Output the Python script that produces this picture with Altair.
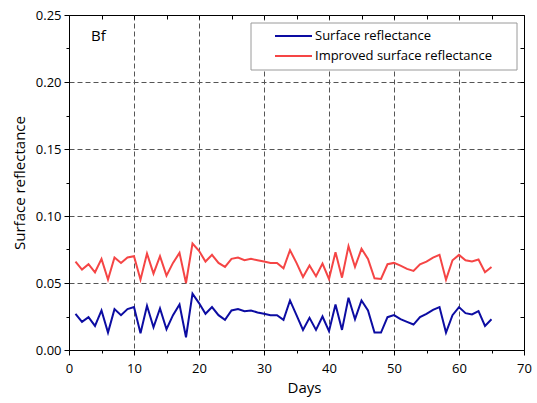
import altair as alt
import pandas as pd

# Daily series (days 1-65)
days = list(range(1, 66))

surface = [
    0.027, 0.021, 0.0245, 0.018, 0.0295, 0.013, 0.0305, 0.026, 0.0305, 0.032,
    0.0125, 0.033, 0.017, 0.031, 0.0155, 0.026, 0.034, 0.0095, 0.042, 0.035,
    0.027, 0.032, 0.026, 0.0225, 0.0295, 0.0305, 0.029, 0.0295, 0.028, 0.027,
    0.026, 0.026, 0.0225, 0.037, 0.026, 0.015, 0.024, 0.015, 0.025, 0.014,
    0.034, 0.015, 0.039, 0.023, 0.037, 0.0295, 0.013, 0.013, 0.0245, 0.026,
    0.023, 0.021, 0.019, 0.0245, 0.027, 0.030, 0.032, 0.013, 0.026, 0.032,
    0.0275, 0.0265, 0.029, 0.018, 0.023,
]

improved = [
    0.066, 0.060, 0.064, 0.058, 0.068, 0.0525, 0.069, 0.065, 0.069, 0.070,
    0.0525, 0.072, 0.057, 0.070, 0.0555, 0.065, 0.0725, 0.050, 0.0795, 0.074,
    0.066, 0.071, 0.065, 0.062, 0.068, 0.069, 0.067, 0.068, 0.067, 0.066,
    0.065, 0.065, 0.061, 0.0745, 0.065, 0.0545, 0.063, 0.055, 0.0645, 0.053,
    0.073, 0.054, 0.0775, 0.062, 0.0755, 0.068, 0.0535, 0.053, 0.064, 0.065,
    0.063, 0.0605, 0.059, 0.064, 0.066, 0.069, 0.071, 0.0525, 0.067, 0.071,
    0.067, 0.066, 0.0675, 0.058, 0.062,
]

series_names = ["Surface reflectance", "Improved surface reflectance"]
colors = ["#0c0ca2", "#f54545"]

x_ticks = [0, 5, 10, 15, 20, 25, 30, 35, 40, 45, 50, 55, 60, 65, 70]
y_ticks = [0.0, 0.025, 0.05, 0.075, 0.1, 0.125, 0.15, 0.175, 0.2, 0.225, 0.25]

df = pd.concat([
    pd.DataFrame({"day": days, "value": surface, "series": series_names[0]}),
    pd.DataFrame({"day": days, "value": improved, "series": series_names[1]}),
])

FONT = "Open Sans"
x_major = "datum.value % 10 == 0"
y_major = "round(datum.value * 1000) % 50 == 0"

x_scale = alt.Scale(domain=[0, 70], nice=False, zero=False)
y_scale = alt.Scale(domain=[0, 0.25], nice=False, zero=False)

x_bottom = alt.Axis(
    values=x_ticks, title="Days", titleFontSize=15, titleFontWeight="normal",
    titleColor="black", titlePadding=5, titleX=235,
    labelExpr=f"{x_major} ? datum.label : ''", labelFontSize=13, labelColor="black",
    labelPadding=7, labelFlush=False, labelOverlap=False,
    tickSize={"condition": {"test": x_major, "value": 5}, "value": 3},
    tickColor="black", domainColor="black",
    grid=True, gridColor="#555555", gridDash=[5, 3], gridWidth=1,
    gridOpacity={"condition": {"test": f"!({x_major}) || datum.value == 0 || datum.value == 70",
                               "value": 0}, "value": 1},
)

y_left = alt.Axis(
    values=y_ticks, title="Surface reflectance", titleFontSize=15,
    titleFontWeight="normal", titleColor="black", titlePadding=8,
    labelExpr=f"{y_major} ? format(datum.value, '.2f') : ''", labelFontSize=13,
    labelColor="black", labelPadding=3, labelFlush=False, labelOverlap=False,
    tickSize={"condition": {"test": y_major, "value": 5}, "value": 3},
    tickColor="black", domainColor="black",
    grid=True, gridColor="#555555", gridDash=[5, 3], gridWidth=1,
    gridOpacity={"condition": {"test": f"!({y_major}) || datum.value == 0 || datum.value >= 0.25",
                               "value": 0}, "value": 1},
)

lines = alt.Chart(df).mark_line(strokeWidth=2).encode(
    x=alt.X("day:Q", scale=x_scale, axis=x_bottom),
    y=alt.Y("value:Q", scale=y_scale, axis=y_left),
    color=alt.Color("series:N", scale=alt.Scale(domain=series_names, range=colors), legend=None),
)

# Inward ticks on the top and right edges of the frame
frame_ticks = alt.Chart(df).mark_point(opacity=0).encode(
    x=alt.X("day:Q", scale=x_scale, axis=alt.Axis(
        orient="top", values=x_ticks, labels=False, domain=False, title=None,
        tickSize=4, offset=-4, tickColor="black", grid=False)),
    y=alt.Y("value:Q", scale=y_scale, axis=alt.Axis(
        orient="right", values=y_ticks, labels=False, domain=False, title=None,
        tickSize=4, offset=-4, tickColor="black", grid=False)),
)

one_row = pd.DataFrame({"k": [0]})

legend_box = alt.Chart(one_row).mark_rect(
    fill="white", stroke="#9a9a9a", strokeWidth=1
).encode(x=alt.value(182), x2=alt.value(448), y=alt.value(8), y2=alt.value(55))

legend_layers = []
for i, (name, col) in enumerate(zip(series_names, colors)):
    ypos = 21 + 20 * i
    legend_layers.append(
        alt.Chart(one_row).mark_rule(color=col, strokeWidth=2).encode(
            x=alt.value(206), x2=alt.value(243), y=alt.value(ypos))
    )
    legend_layers.append(
        alt.Chart(one_row).mark_text(
            align="left", baseline="middle", fontSize=13, font=FONT, color="black"
        ).encode(x=alt.value(246), y=alt.value(ypos), text=alt.value(name))
    )

panel_label = alt.Chart(one_row).mark_text(
    align="left", baseline="middle", fontSize=15, font=FONT, color="black"
).encode(x=alt.value(22), y=alt.value(21), text=alt.value("Bf"))

chart = alt.layer(
    lines, frame_ticks, legend_box, *legend_layers, panel_label
).resolve_axis(
    x="independent", y="independent"
).properties(
    width=455, height=335,
    autosize=alt.AutoSizeParams(type="none"),
    padding={"left": 69, "top": 15, "right": 13, "bottom": 53},
    background="white",
).configure(
    font=FONT
).configure_view(
    stroke="black", strokeWidth=1
)

chart.save("out.html", embed_options={"renderer": "svg", "actions": False})
